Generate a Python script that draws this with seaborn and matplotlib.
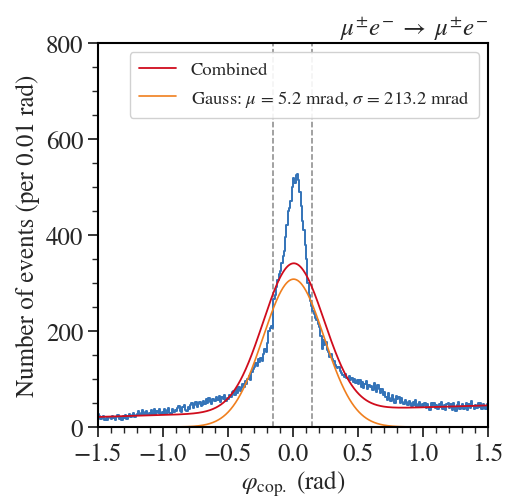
import numpy as np
import pandas as pd
import matplotlib
matplotlib.use("Agg")
import matplotlib.pyplot as plt
from matplotlib.ticker import MultipleLocator
import seaborn as sns

# ---- data ----
bin_lo, bin_hi, bin_w = -1.5, 1.5, 0.01
counts = [
    28, 22, 17, 20, 23, 15, 19, 14, 21, 18,
    16, 22, 19, 14, 20, 24, 17, 21, 15, 22,
    19, 26, 17, 23, 28, 20, 24, 30, 21, 25,
    27, 33, 24, 29, 36, 25, 31, 34, 24, 30,
    28, 35, 27, 37, 26, 33, 29, 38, 27, 32,
    30, 37, 28, 35, 40, 30, 27, 38, 32, 36,
    33, 39, 44, 34, 31, 41, 45, 36, 33, 42,
    37, 45, 50, 39, 46, 53, 41, 48, 52, 43,
    46, 54, 48, 58, 50, 60, 52, 47, 58, 55,
    54, 62, 57, 64, 53, 63, 58, 66, 55, 61,
    58, 67, 62, 72, 76, 66, 80, 71, 83, 76,
    82, 90, 84, 96, 89, 100, 106, 98, 114, 120,
    126, 134, 127, 141, 135, 144, 137, 152, 162, 157,
    176, 199, 206, 211, 207, 266, 276, 291, 306, 318,
    326, 341, 356, 366, 396, 421, 451, 456, 471, 500,
    518, 509, 525, 528, 515, 490, 460, 430, 410, 380,
    350, 300, 275, 262, 252, 242, 236, 228, 222, 214,
    208, 190, 162, 182, 170, 178, 160, 156, 146, 152,
    142, 138, 130, 126, 122, 124, 116, 112, 108, 104,
    110, 102, 100, 107, 97, 103, 94, 101, 91, 98,
    90, 97, 84, 93, 81, 89, 95, 79, 87, 83,
    86, 77, 91, 82, 73, 87, 80, 71, 79, 67,
    72, 63, 57, 70, 61, 54, 67, 59, 51, 64,
    58, 63, 49, 61, 53, 47, 57, 52, 45, 54,
    50, 43, 53, 46, 56, 41, 48, 52, 42, 47,
    44, 50, 39, 47, 42, 36, 49, 43, 51, 40,
    46, 37, 48, 41, 52, 38, 45, 35, 47, 50,
    40, 47, 36, 49, 42, 33, 46, 53, 38, 44,
    48, 37, 44, 51, 36, 47, 40, 54, 43, 38,
    46, 39, 50, 42, 49, 37, 47, 44, 38, 48,
]
# fit curve parameters (as drawn)
gauss_amp, gauss_mu, gauss_sigma = 308.0, 0.0052, 0.235
bkg_const, bkg_slope = 33.0, 8.0
cut_lo, cut_hi = -0.15, 0.15
legend_labels = ["Combined", r"Gauss: $\mu$ = 5.2 mrad, $\sigma$ = 213.2 mrad"]
title = r"$\mu^{\pm}e^{-}\;\rightarrow\;\mu^{\pm}e^{-}$"
xlabel = r"$\varphi_{\mathrm{cop.}}$ (rad)"
ylabel = "Number of events (per 0.01 rad)"

# ---- style ----
sns.set_style("ticks")
plt.rcParams["font.family"] = ["STIXGeneral", "Liberation Serif", "DejaVu Serif"]
plt.rcParams["mathtext.fontset"] = "stix"
plt.rcParams["axes.unicode_minus"] = True

n_bins = len(counts)
centers = bin_lo + bin_w * (np.arange(n_bins) + 0.5)
hist_df = pd.DataFrame({"x": centers, "w": counts})

xs = np.linspace(bin_lo, bin_hi, 800)
gauss = gauss_amp * np.exp(-0.5 * ((xs - gauss_mu) / gauss_sigma) ** 2)
combined = gauss + bkg_const + bkg_slope * xs
curve_df = pd.DataFrame({"x": xs, "gauss": gauss, "combined": combined})

fig = plt.figure(figsize=(5.07, 5.02), dpi=100)
ax = fig.add_axes([0.193, 0.1474, 0.7695, 0.765])

sns.histplot(data=hist_df, x="x", weights="w", bins=n_bins,
             binrange=(bin_lo, bin_hi), element="step",
             fill=False, color="#3373b8", linewidth=1.4, ax=ax)
sns.lineplot(data=curve_df, x="x", y="combined", color="#d00c1c", linewidth=1.3,
             ax=ax, label=legend_labels[0])
sns.lineplot(data=curve_df, x="x", y="gauss", color="#f07f1e", linewidth=1.2,
             ax=ax, label=legend_labels[1])
for c in (cut_lo, cut_hi):
    ax.axvline(c, color="#888888", linestyle="--", linewidth=1.1, zorder=0)

ax.set_xlim(bin_lo, bin_hi)
ax.set_ylim(0, 800)
ax.xaxis.set_major_locator(MultipleLocator(0.5))
ax.xaxis.set_minor_locator(MultipleLocator(0.1))
ax.yaxis.set_major_locator(MultipleLocator(200))
ax.yaxis.set_minor_locator(MultipleLocator(50))
ax.tick_params(which="major", length=7, width=1.3, labelsize=18, direction="out")
ax.tick_params(which="minor", length=4, width=1.0, direction="out")
for s in ax.spines.values():
    s.set_visible(True)
    s.set_linewidth(1.5)
    s.set_color("black")

ax.set_xlabel(xlabel, fontsize=18, labelpad=2)
ax.set_ylabel(ylabel, fontsize=18, labelpad=4)
ax.set_title(title, loc="right", fontsize=18, pad=6)
ax.legend(loc="upper right", fontsize=13.3, frameon=True, fancybox=True,
          edgecolor="#cccccc", framealpha=0.9, borderpad=0.5)

fig.savefig("out.png", dpi=100)
